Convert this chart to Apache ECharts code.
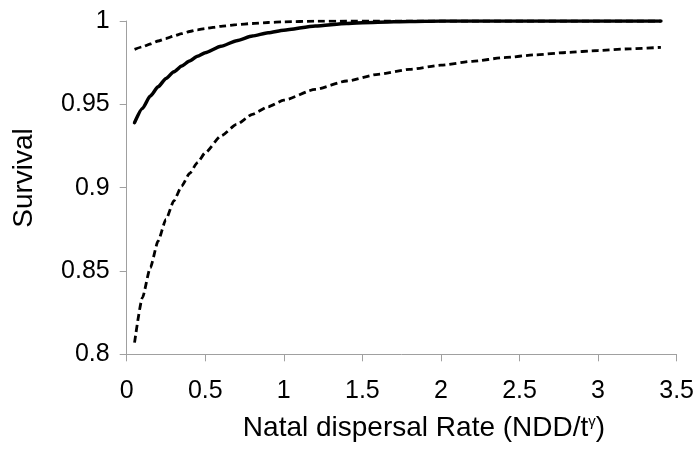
<!DOCTYPE html>
<html>
<head>
<meta charset="utf-8">
<script src="https://cdn.jsdelivr.net/npm/echarts@6/dist/echarts.min.js"></script>
<style>
  html, body { margin: 0; padding: 0; background: #fff; }
  #chart { width: 697px; height: 450px; }
</style>
</head>
<body>
<div id="chart"></div>
<script>
// Natal dispersal rate (x) and survival estimates with confidence bounds
var rate = [0.05, 0.1, 0.15, 0.2, 0.25, 0.3, 0.35, 0.4, 0.45, 0.5,
            0.6, 0.7, 0.8, 0.9, 1.0,
            1.2, 1.4, 1.6, 1.8, 2.0, 2.2, 2.4, 2.6, 2.8, 3.0, 3.2, 3.4];

var survival = [0.939, 0.9475, 0.955, 0.9605, 0.9655, 0.9695, 0.973, 0.976, 0.9788, 0.981,
                0.9848, 0.9882, 0.991, 0.993, 0.9945,
                0.997, 0.9985, 0.9993, 0.9997, 1.0, 1.0, 1.0, 1.0, 1.0, 1.0, 1.0, 1.0];

var upperBound = [0.983, 0.9845, 0.9862, 0.988, 0.9895, 0.991, 0.9924, 0.9937, 0.9947, 0.9955,
                  0.9968, 0.9978, 0.9985, 0.9991, 0.9995,
                  0.9999, 1.0, 1.0, 1.0, 1.0, 1.0, 1.0, 1.0, 1.0, 1.0, 1.0, 1.0];

var lowerBound = [0.807, 0.834, 0.852, 0.868, 0.881, 0.892, 0.901, 0.9085, 0.915, 0.921,
                  0.931, 0.938, 0.944, 0.9485, 0.9525,
                  0.959, 0.964, 0.968, 0.971, 0.9735, 0.9758, 0.978, 0.9797, 0.9811, 0.9823, 0.9833, 0.9842];

var xTicks = { min: 0, max: 3.5, interval: 0.5 };
var yTicks = { min: 0.8, max: 1, interval: 0.05 };

function pairs(xs, ys) {
  return xs.map(function (x, i) { return [x, ys[i]]; });
}

var FONT = '"Liberation Sans", Arial, sans-serif';
var axisGray = '#a0a0a0';

var chart = echarts.init(document.getElementById('chart'), null, { renderer: 'canvas' });

var dashed = { color: '#000', width: 2.8, type: [7, 4], cap: 'butt' };

chart.setOption({
  animation: false,
  backgroundColor: '#fff',
  grid: { left: 126.7, right: 19.4, top: 21, bottom: 95.7, containLabel: false },
  xAxis: {
    type: 'value',
    min: xTicks.min, max: xTicks.max, interval: xTicks.interval,
    axisLine: { show: true, onZero: false, lineStyle: { color: axisGray, width: 1 } },
    axisTick: { show: true, length: 7, lineStyle: { color: axisGray } },
    axisLabel: { color: '#000', fontFamily: FONT, fontSize: 25, margin: 24 },
    splitLine: { show: false }
  },
  yAxis: {
    type: 'value',
    min: yTicks.min, max: yTicks.max, interval: yTicks.interval,
    axisLine: { show: true, lineStyle: { color: axisGray, width: 1 } },
    axisTick: { show: true, length: 7, lineStyle: { color: axisGray } },
    axisLabel: { color: '#000', fontFamily: FONT, fontSize: 25, margin: 17 },
    splitLine: { show: false }
  },
  graphic: [
    {
      type: 'text',
      x: 424, y: 428,
      style: {
        text: '{t|Natal dispersal Rate (NDD/t}{s|γ}{t|)}',
        rich: {
          t: { fontFamily: FONT, fontSize: 28, fill: '#000' },
          s: { fontFamily: FONT, fontSize: 15, fill: '#000', verticalAlign: 'top', padding: [0, 0, 11, 0] }
        },
        align: 'center', verticalAlign: 'middle'
      }
    },
    {
      type: 'text',
      x: 24, y: 178, rotation: Math.PI / 2,
      style: {
        text: 'Survival', fontFamily: FONT, fontSize: 28, fill: '#000',
        align: 'center', verticalAlign: 'middle'
      }
    }
  ],
  series: [
    {
      type: 'line', data: pairs(rate, lowerBound), smooth: 0.2, smoothMonotone: 'x',
      showSymbol: false, lineStyle: dashed
    },
    {
      type: 'line', data: pairs(rate, upperBound), smooth: 0.2, smoothMonotone: 'x',
      showSymbol: false, lineStyle: dashed
    },
    {
      type: 'line', data: pairs(rate, survival), smooth: 0.2, smoothMonotone: 'x',
      showSymbol: false, lineStyle: { color: '#000', width: 3.5, cap: 'round' }
    }
  ]
});
</script>
</body>
</html>
